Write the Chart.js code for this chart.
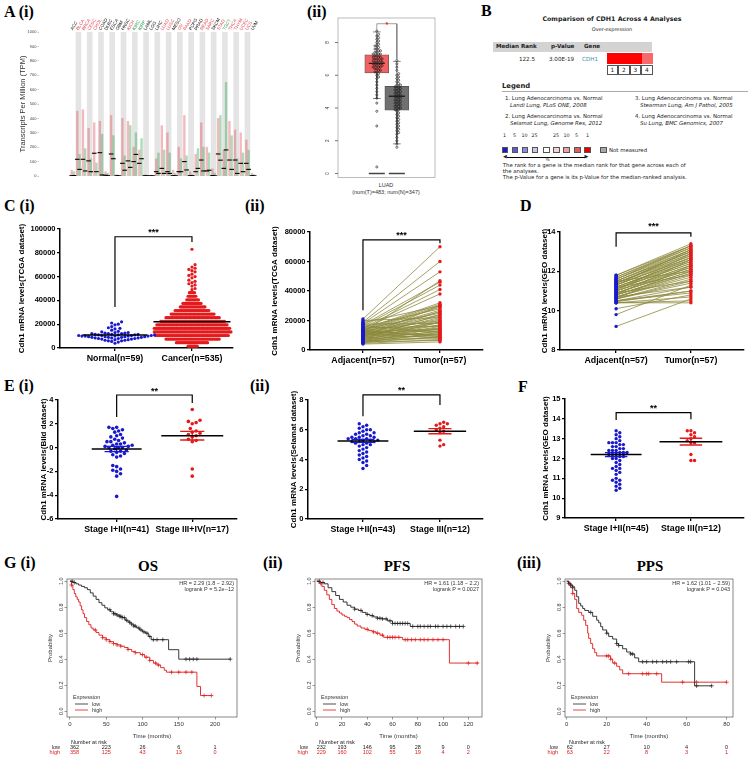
<!DOCTYPE html>
<html lang="en">
<head>
<meta charset="UTF-8" />
<title>CDH1 expression in lung adenocarcinoma</title>
<script src="https://cdn.jsdelivr.net/npm/chart.js@4.4.1/dist/chart.umd.min.js"></script>
<style>
  body { margin: 0; background: #fff; }
  #fig { position: relative; width: 748px; height: 763px; overflow: hidden; background: #fff; font-family: "Liberation Sans", Arial, sans-serif; }
  .lab { position: absolute; font: bold 16px "Liberation Serif", "Times New Roman", serif; color: #000; white-space: nowrap; line-height: 1; }
  .ttl { position: absolute; font: bold 15px "Liberation Serif", "Times New Roman", serif; color: #000; white-space: nowrap; line-height: 1; text-align: center; width: 60px; }
  .t { position: absolute; white-space: nowrap; line-height: 1; }
  .onc { font-family: "DejaVu Sans", Verdana, sans-serif; color: #222; font-size: 5.4px; }
  .sw { position: absolute; width: 6.5px; height: 6.5px; border: 0.6px solid #555; box-sizing: border-box; }
  .nb { position: absolute; width: 11.5px; height: 10px; border: 0.7px solid #555; box-sizing: border-box; font: 5.8px "DejaVu Sans", Verdana, sans-serif; text-align: center; line-height: 9px; color: #222; }
</style>
</head>
<body>
<div id="fig">
  <div class="lab" style="left:4px;top:4px">A (i)</div>
  <div class="lab" style="left:307px;top:4px">(ii)</div>
  <div class="lab" style="left:481px;top:3px">B</div>
  <div class="lab" style="left:4px;top:198px">C (i)</div>
  <div class="lab" style="left:245px;top:198px">(ii)</div>
  <div class="lab" style="left:520px;top:198px">D</div>
  <div class="lab" style="left:4px;top:378px">E (i)</div>
  <div class="lab" style="left:250px;top:378px">(ii)</div>
  <div class="lab" style="left:518px;top:379px">F</div>
  <div class="lab" style="left:4px;top:555px">G (i)</div>
  <div class="lab" style="left:263px;top:555px">(ii)</div>
  <div class="lab" style="left:517px;top:555px">(iii)</div>
  <div class="ttl" style="left:118px;top:559px">OS</div>
  <div class="ttl" style="left:367px;top:559px">PFS</div>
  <div class="ttl" style="left:620px;top:559px">PPS</div>

  <div class="t" style="left:336px;width:100px;text-align:center;top:183px;font-size:5.5px;color:#333">LUAD</div>
  <div class="t" style="left:336px;width:100px;text-align:center;top:190px;font-size:5.5px;color:#333">(num(T)=483; num(N)=347)</div>

  <!-- B: Oncomine summary -->
  <div class="t onc" style="left:512px;width:200px;top:16px;text-align:center;font-size:6.3px;font-weight:bold">Comparison of CDH1 Across 4 Analyses</div>
  <div class="t onc" style="left:512px;width:200px;top:26.5px;text-align:center;font-size:5px">Over-expression</div>
  <div style="position:absolute;left:493px;top:41.5px;width:159px;height:10px;background:#d3d3d3"></div>
  <div class="t onc" style="left:496px;top:44px;font-size:5.6px;font-weight:bold">Median Rank</div>
  <div class="t onc" style="left:551px;top:44px;font-size:5.6px;font-weight:bold">p-Value</div>
  <div class="t onc" style="left:584px;top:44px;font-size:5.6px;font-weight:bold">Gene</div>
  <div class="t onc" style="left:519px;top:56.5px;font-size:5.6px">122.5</div>
  <div class="t onc" style="left:549px;top:56.5px;font-size:5.6px">3.00E-19</div>
  <div class="t onc" style="left:582px;top:56.5px;font-size:5.6px;color:#3b8fae">CDH1</div>
  <div style="position:absolute;left:606.5px;top:53px;width:35px;height:11px;background:#ff0000"></div>
  <div style="position:absolute;left:641.5px;top:53px;width:11px;height:11px;background:#f86a6a"></div>
  <div class="nb" style="left:606.5px;top:65px">1</div>
  <div class="nb" style="left:618px;top:65px">2</div>
  <div class="nb" style="left:629.5px;top:65px">3</div>
  <div class="nb" style="left:641px;top:65px">4</div>
  <div class="t onc" style="left:502px;top:83px;font-size:6.8px;font-weight:bold">Legend</div>
  <div style="position:absolute;left:502px;top:91px;width:246px;height:0.7px;background:#aaa"></div>
  <div class="t onc" style="left:505px;top:95.5px">1. Lung Adenocarcinoma vs. Normal</div>
  <div class="t onc" style="left:510px;top:102.5px;font-style:italic">Landi Lung, PLoS ONE, 2008</div>
  <div class="t onc" style="left:505px;top:113.5px">2. Lung Adenocarcinoma vs. Normal</div>
  <div class="t onc" style="left:510px;top:120.5px;font-style:italic">Selamat Lung, Genome Res, 2012</div>
  <div class="t onc" style="left:635px;top:95.5px">3. Lung Adenocarcinoma vs. Normal</div>
  <div class="t onc" style="left:640px;top:102.5px;font-style:italic">Stearman Lung, Am J Pathol, 2005</div>
  <div class="t onc" style="left:635px;top:113.5px">4. Lung Adenocarcinoma vs. Normal</div>
  <div class="t onc" style="left:640px;top:120.5px;font-style:italic">Su Lung, BMC Genomics, 2007</div>
  <div class="t onc" style="left:503px;top:133.5px;font-size:4.8px">1</div>
  <div class="t onc" style="left:513px;top:133.5px;font-size:4.8px">5</div>
  <div class="t onc" style="left:521.5px;top:133.5px;font-size:4.8px">10</div>
  <div class="t onc" style="left:531.5px;top:133.5px;font-size:4.8px">25</div>
  <div class="t onc" style="left:553px;top:133.5px;font-size:4.8px">25</div>
  <div class="t onc" style="left:563.5px;top:133.5px;font-size:4.8px">10</div>
  <div class="t onc" style="left:575px;top:133.5px;font-size:4.8px">5</div>
  <div class="t onc" style="left:586px;top:133.5px;font-size:4.8px">1</div>
  <div class="sw" style="left:501.7px;top:146.5px;background:#1a1acc"></div>
  <div class="sw" style="left:511.7px;top:146.5px;background:#5c5cd0"></div>
  <div class="sw" style="left:521.7px;top:146.5px;background:#8c8cdc"></div>
  <div class="sw" style="left:531.7px;top:146.5px;background:#c8c8ee"></div>
  <div class="sw" style="left:543.3px;top:146.5px;background:#ffffff"></div>
  <div class="sw" style="left:553.3px;top:146.5px;background:#f4d2d2"></div>
  <div class="sw" style="left:563.3px;top:146.5px;background:#eaa2a2"></div>
  <div class="sw" style="left:574px;top:146.5px;background:#de5f5f"></div>
  <div class="sw" style="left:584px;top:146.5px;background:#e60000"></div>
  <div class="sw" style="left:600px;top:146.5px;background:#a8a8a8"></div>
  <div class="t onc" style="left:609px;top:147.5px">Not measured</div>
  <div style="position:absolute;left:507px;top:156.5px;width:79px;height:0.8px;background:#000"></div>
  <div class="t onc" style="left:503px;top:154px;font-size:5px">&#9664;</div>
  <div class="t onc" style="left:584.5px;top:154px;font-size:5px">&#9654;</div>
  <div class="t onc" style="left:545.5px;top:158px;font-size:4.5px">%</div>
  <div class="t onc" style="left:502.7px;top:162.5px">The rank for a gene is the median rank for that gene across each of</div>
  <div class="t onc" style="left:502.7px;top:168.8px">the analyses.</div>
  <div class="t onc" style="left:502.7px;top:175.3px">The p-Value for a gene is its p-Value for the median-ranked analysis.</div>
</div>

<script>
// ---------- data ----------
// A(i) GEPIA pan-cancer profile (TPM)
const gepiaTypes = ['ACC','BLCA','BRCA','CESC','CHOL','COAD','DLBC','ESCA','GBM','HNSC','KICH','KIRC','KIRP','LAML','LGG','LIHC','LUAD','LUSC','MESO','OV','PAAD','PCPG','PRAD','READ','SARC','SKCM','STAD','TGCT','THCA','THYM','UCEC','UCS','UVM'];
const gepiaTone = ['k','r','r','r','r','k','k','k','k','k','r','g','g','k','k','k','r','r','k','r','r','k','k','r','r','k','r','g','r','r','r','r','k'];
const gepiaTumorMax = [40,450,460,330,370,380,30,420,10,400,380,200,180,8,6,120,350,300,40,200,420,30,150,370,200,50,400,180,380,320,300,250,20];
const gepiaTumorMed = [2,116,116,105,158,162,5,153,2,88,105,100,88,2,1,30,53,30,2,30,100,2,30,111,35,3,153,53,111,111,88,88,2];
const gepiaNormalMax = [30,150,190,120,90,290,20,280,5,140,350,300,260,5,4,160,180,160,20,120,140,10,190,200,160,20,420,650,280,120,160,180,10];
const gepiaNormalMed = [3,46,35,30,30,7,2,120,1,40,60,150,120,1,1,18,18,18,2,30,42,2,53,35,40,1,110,181,46,18,30,46,1];

// A(ii) LUAD box plot, log2(TPM+1)
const luadBoxTumor = [4.58, 6.14, 6.73, 7.25, 8.65];   // min, q1, median, q3, max
const luadBoxNormal = [1.81, 3.87, 4.72, 5.32, 6.85];
const luadTumorDots = [8.7,8.5,8.4,8.3,8.2,8.1,8.0,7.9,7.8,7.8,7.7,7.6,7.6,7.5,7.5,7.4,7.4,7.3,7.3,7.3,7.2,7.2,7.1,7.1,7.1,7.0,7.0,7.0,6.9,6.9,6.9,6.8,6.8,6.8,6.7,6.7,6.7,6.6,6.6,6.6,6.5,6.5,6.5,6.4,6.4,6.3,6.3,6.2,6.2,6.1,6.0,5.9,5.8,5.6,5.4,5.2,5.0,4.8,4.6,4.3,3.8,2.9,0.4];
const luadNormalDots = [6.9,6.7,6.5,6.3,6.1,6.0,5.9,5.8,5.7,5.6,5.5,5.4,5.4,5.3,5.3,5.2,5.2,5.1,5.1,5.0,5.0,4.9,4.9,4.8,4.8,4.7,4.7,4.6,4.6,4.5,4.5,4.4,4.4,4.3,4.3,4.2,4.2,4.1,4.1,4.0,4.0,3.9,3.9,3.8,3.7,3.6,3.5,3.4,3.3,3.2,3.1,3.0,2.9,2.8,2.7,2.6,2.5,2.4,2.2,2.0,1.8,1.6];

// C(i) TCGA unpaired
const tcgaCats = ['Normal(n=59)', 'Cancer(n=535)'];
const tcgaNormal = [22000,21000,20000,19500,18000,17000,16500,16000,15000,14000,13500,13000,13000,12500,12500,12000,12000,12000,11500,11500,11500,11000,11000,11000,11000,10500,10500,10500,10500,10000,10000,10000,10000,10000,9500,9500,9500,9500,9000,9000,9000,9000,8500,8500,8500,8000,8000,8000,7500,7500,7000,7000,6500,6500,6000,6000,5500,5000,4000];
const tcgaCancerLevels = [1500,4500,7500,10500,13500,16500,19500,22500,25500,28500,31500,34500,37500,40500,43500,46500];
const tcgaCancerCounts = [8,25,42,57,60,59,55,50,42,34,27,20,15,10,7,5];
const tcgaCancerHigh = [49000,50000,52000,53000,54000,55000,56000,57000,59000,60000,61000,62000,64000,65000,66000,67000,68000,70000,83000];
const tcgaMeans = [11000, 22000];

// C(ii) TCGA paired
const pairCats = ['Adjacent(n=57)', 'Tumor(n=57)'];
const tcgaPairAdjacent = [21000,20000,19000,18500,18000,17500,17000,16500,16000,15500,15000,15000,14500,14000,14000,13500,13500,13000,13000,12500,12500,12000,12000,12000,11500,11500,11000,11000,11000,10500,10500,10000,10000,10000,9500,9500,9000,9000,8500,8500,8000,8000,7500,7500,7000,7000,6500,6500,6000,6000,5500,5500,5000,5000,4500,4000,12000];
const tcgaPairTumor = [70000,22000,60000,30000,53000,18000,46000,12000,44000,28000,41000,16000,38000,25000,32000,9000,31000,20000,30000,14000,29000,26000,10000,27000,24000,13000,23000,21000,8000,19000,17000,26000,15000,11000,22000,18500,14000,30000,20000,9500,17000,12500,24000,7500,16000,11000,19000,13000,10500,8500,15000,6500,9000,12000,7000,5500,47000];

// D GEO paired
const geoPairAdjacent = [11.8,11.8,11.7,11.7,11.6,11.6,11.5,11.5,11.5,11.4,11.4,11.4,11.3,11.3,11.3,11.2,11.2,11.2,11.1,11.1,11.1,11.0,11.0,11.0,10.9,10.9,10.9,10.8,10.8,10.8,10.7,10.7,10.7,10.6,10.6,10.6,10.5,10.5,10.5,10.4,10.4,10.4,11.6,11.3,11.0,10.8,10.6,11.5,11.2,10.9,10.7,11.4,11.1,10.1,9.8,9.2,10.45];
const geoPairTumor = [13.4,13.3,13.3,13.2,13.2,13.1,13.1,13.0,13.0,12.9,12.9,12.8,12.8,12.7,12.7,12.6,12.6,12.5,12.5,12.4,12.4,12.3,12.3,12.2,12.2,12.1,12.1,12.0,12.0,11.9,11.9,11.8,11.7,11.6,11.5,11.4,11.2,11.0,10.9,10.7,10.5,10.4,13.3,13.1,12.9,12.6,12.3,12.0,11.8,11.5,11.2,13.0,12.7,10.8,11.3,10.6,11.0];

// E(i) Bild, E(ii) Selamat, F GEO by stage
const bildCats = ['Stage I+II(n=41)', 'Stage III+IV(n=17)'];
const bildEarly = [1.7,1.7,1.6,1.5,1.4,1.3,1.0,1.1,0.9,0.8,0.7,0.6,0.5,0.5,0.4,0.3,0.3,0.2,0.2,0.1,0.1,0.0,0.0,0.0,-0.1,-0.2,-0.3,-0.3,-0.4,-0.5,-0.6,-0.7,-0.8,-1.5,-1.6,-1.8,-1.9,-2.0,-2.2,-2.4,-4.1];
const bildLate = [3.2,2.3,2.2,2.1,2.0,1.6,1.4,1.3,1.2,1.1,1.0,0.9,0.7,0.6,0.5,-1.8,-2.4];
const bildMeans = [-0.12, 1.0];
const bildSem = [0.22, 0.36];

const selamatCats = ['Stage I+II(n=43)', 'Stage III(n=12)'];
const selamatEarly = [6.4,6.3,6.2,6.1,6.0,6.0,5.9,5.8,5.8,5.7,5.7,5.6,5.6,5.5,5.5,5.5,5.4,5.4,5.4,5.3,5.3,5.3,5.2,5.2,5.2,5.1,5.1,5.0,5.0,4.9,4.8,4.7,4.6,4.5,4.4,4.3,4.2,4.1,4.0,3.9,3.8,3.6,3.4];
const selamatLate = [6.5,6.4,6.4,6.3,6.2,6.1,6.0,5.9,5.8,5.3,5.0,4.9];
const selamatMeans = [5.25, 5.9];
const selamatSem = [0.1, 0.17];

const geoStageCats = ['Stage I+II(n=45)', 'Stage III(n=12)'];
const geoEarly = [13.4,13.3,13.2,13.1,13.0,12.9,12.8,12.8,12.8,12.7,12.7,12.6,12.6,12.5,12.5,12.4,12.4,12.4,12.3,12.3,12.3,12.2,12.2,12.2,12.1,12.1,12.0,12.0,11.9,11.8,11.7,11.6,11.5,11.5,11.4,11.3,11.2,11.0,10.9,10.9,10.8,10.7,10.6,10.5,10.4];
const geoLate = [13.4,13.4,13.3,13.2,13.1,13.0,12.9,12.8,12.8,12.2,11.9,11.9];
const geoMeans = [12.2, 12.85];
const geoSem = [0.1, 0.17];

// G Kaplan-Meier curves: [months, survival]
const osLow = [[0,1],[4,0.99],[8,0.98],[12,0.97],[16,0.96],[20,0.95],[24,0.935],[28,0.91],[32,0.885],[36,0.86],[40,0.835],[44,0.815],[48,0.795],[52,0.78],[56,0.765],[60,0.75],[64,0.74],[68,0.73],[72,0.72],[76,0.70],[80,0.685],[84,0.67],[88,0.655],[92,0.64],[96,0.625],[100,0.61],[104,0.60],[108,0.575],[112,0.55],[136,0.473],[150,0.40],[221,0.40]];
const osHigh = [[0,1],[2,0.97],[4,0.935],[6,0.905],[8,0.88],[10,0.86],[12,0.84],[14,0.81],[16,0.78],[18,0.75],[20,0.72],[23,0.69],[26,0.665],[29,0.64],[32,0.625],[36,0.605],[40,0.585],[45,0.565],[50,0.55],[55,0.535],[60,0.52],[65,0.51],[70,0.50],[75,0.49],[80,0.475],[85,0.46],[90,0.45],[97,0.435],[103,0.415],[110,0.39],[115,0.37],[120,0.355],[125,0.335],[130,0.315],[133,0.30],[175,0.19],[180,0.12],[195,0.12]];
const osCensLow = [3,6,55,60,62,65,68,70,72,75,78,82,85,88,90,95,98,102,106,110,115,120,128,160,165,170,175,221];
const osCensHigh = [2,35,45,50,55,60,65,70,80,90,100,105,110,118,122,140,150,160,168,185,195];
const osRiskTimes = [0,50,100,150,200];
const osRiskLow = [362,223,26,6,1];
const osRiskHigh = [358,125,43,13,0];

const pfsLow = [[0,1],[3,0.99],[6,0.98],[9,0.95],[12,0.92],[15,0.89],[18,0.86],[21,0.84],[24,0.815],[27,0.80],[30,0.785],[33,0.775],[36,0.76],[39,0.745],[42,0.735],[45,0.725],[48,0.715],[52,0.71],[56,0.695],[60,0.675],[72,0.675],[74,0.652],[116,0.652]];
const pfsHigh = [[0,1],[2,0.985],[4,0.96],[6,0.93],[8,0.895],[10,0.86],[12,0.82],[14,0.79],[16,0.77],[18,0.755],[20,0.74],[22,0.73],[24,0.72],[26,0.705],[28,0.69],[30,0.67],[32,0.655],[35,0.64],[38,0.63],[41,0.62],[44,0.61],[47,0.60],[50,0.585],[53,0.568],[68,0.55],[105,0.37],[128,0.37]];
const pfsCensLow = [2,5,30,35,40,44,48,50,52,55,58,60,62,64,66,68,70,72,76,80,82,85,88,90,94,96,100,103,106,110,113,116];
const pfsCensHigh = [3,40,45,48,52,56,58,60,62,65,70,72,75,78,82,85,88,92,96,100,120,127];
const pfsRiskTimes = [0,20,40,60,80,100,120];
const pfsRiskLow = [232,193,146,95,28,9,0];
const pfsRiskHigh = [229,160,102,55,19,4,2];

const ppsLow = [[0,1],[1,0.985],[2,0.97],[3,0.955],[4,0.93],[5,0.88],[6,0.83],[7,0.81],[8,0.79],[9,0.775],[11,0.76],[13,0.73],[15,0.70],[16,0.68],[17,0.65],[18,0.625],[20,0.60],[21,0.575],[23,0.555],[25,0.52],[26,0.505],[28,0.48],[30,0.455],[32,0.44],[34,0.41],[36,0.38],[64,0.195],[72.5,0.195]];
const ppsHigh = [[0,1],[1,0.98],[2,0.95],[3,0.905],[4,0.86],[5,0.79],[6,0.76],[7.5,0.738],[8.5,0.70],[9.5,0.66],[10.5,0.6],[11,0.56],[12,0.52],[13,0.48],[14,0.45],[15,0.425],[22,0.40],[23,0.37],[25,0.345],[26.5,0.318],[28,0.288],[47.5,0.223],[80,0.223]];
const ppsCensLow = [1,2,3,12,20,25,26,32,33,38,40,43,45,48,50,52,55,61,62,65,72.5];
const ppsCensHigh = [1.5,3,20,21,22,24,31,38,40,41,45,58,65,80];
const ppsRiskTimes = [0,20,40,60,80];
const ppsRiskLow = [62,27,10,4,0];
const ppsRiskHigh = [63,22,8,3,1];

// ---------- helpers ----------
Chart.defaults.font.family = '"Liberation Sans", Arial, sans-serif';
Chart.defaults.color = '#000';
const fig = document.getElementById('fig');
const BLUE = '#1a1acd', RED = '#e41a1c';

function canvasAt(box) {
  const c = document.createElement('canvas');
  c.width = box.w; c.height = box.h;
  c.style.cssText = 'position:absolute;left:' + box.l + 'px;top:' + box.t + 'px;width:' + box.w + 'px;height:' + box.h + 'px';
  fig.appendChild(c);
  return c;
}
function fitLayout(box, plot) {
  return {
    padding: { left: 0, bottom: 0, top: plot.t - box.t, right: box.l + box.w - plot.r },
    yW: plot.l - box.l, xH: box.t + box.h - plot.b
  };
}
function tickList(a, b, step) {
  const out = [];
  for (let v = a; v <= b + step * 1e-6; v += step) out.push(Math.round(v * 1e6) / 1e6);
  return out;
}
function pts(list) {
  let lastX = 0;
  return list.map(p => {
    if (p) { lastX = p[0]; return { x: p[0], y: p[1] }; }
    return { x: lastX, y: null };
  });
}
function lineDs(list, color, width, order, extra) {
  return Object.assign({ type: 'line', data: pts(list), borderColor: color, borderWidth: width, pointRadius: 0,
    fill: false, spanGaps: false, tension: 0, order: order }, extra || {});
}
// simple beeswarm: horizontal pixel offsets so dots don't overlap
function swarm(vals, yPU, dia) {
  const idx = vals.map((v, i) => i).sort((a, b) => vals[a] - vals[b]);
  const placed = [], off = new Array(vals.length);
  for (const i of idx) {
    const py = vals[i] * yPU;
    for (let k = 0; ; k++) {
      const px = (k % 2 ? 1 : -1) * Math.ceil(k / 2) * dia / 2;
      if (placed.every(p => (p[0] - px) ** 2 + (p[1] - py) ** 2 >= dia * dia - 1e-6)) {
        placed.push([px, py]); off[i] = px; break;
      }
    }
  }
  return off;
}
function survAt(curve, t) {
  let s = 1;
  for (const p of curve) if (p[0] <= t) s = p[1];
  return s;
}
const noUi = { legend: { display: false }, tooltip: { enabled: false } };

// ---------- A(i) ----------
(function () {
  const box = { l: 18, t: 10, w: 274, h: 174 }, plot = { l: 39, t: 32, r: 288, b: 176 };
  const L = fitLayout(box, plot);
  const tone = { r: '#e2474f', g: '#22a04a', k: '#111' };
  new Chart(canvasAt(box), {
    type: 'scatter',
    data: { datasets: [
      { type: 'scatter', data: gepiaTumorMed.map((v, i) => ({ x: i - 0.2, y: v })), pointStyle: 'line', pointRadius: 2.3,
        borderColor: '#000', pointBorderColor: '#000', pointBorderWidth: 1.1, order: 0 },
      { type: 'scatter', data: gepiaNormalMed.map((v, i) => ({ x: i + 0.2, y: v })), pointStyle: 'line', pointRadius: 2.3,
        borderColor: '#000', pointBorderColor: '#000', pointBorderWidth: 1.1, order: 0 },
      { type: 'bar', data: gepiaTumorMax.map((v, i) => ({ x: i - 0.2, y: [0, v] })), backgroundColor: 'rgba(226,71,79,0.38)',
        barThickness: 1.7, grouped: false, order: 2 },
      { type: 'bar', data: gepiaNormalMax.map((v, i) => ({ x: i + 0.2, y: [0, v] })), backgroundColor: 'rgba(34,160,74,0.38)',
        barThickness: 1.7, grouped: false, order: 2 }
    ] },
    options: {
      responsive: false, animation: false, layout: { padding: L.padding }, plugins: noUi,
      scales: {
        x: { type: 'linear', min: -0.5, max: gepiaTypes.length - 0.5, afterFit: s => { s.height = L.xH; },
          ticks: { display: false }, grid: { display: false }, border: { display: false } },
        y: { min: 0, max: 1000, afterFit: s => { s.width = L.yW; }, afterBuildTicks: s => { s.ticks = tickList(0, 1000, 100).map(v => ({ value: v })); },
          ticks: { font: { size: 4 }, color: '#444', padding: 1, callback: v => String(v) },
          grid: { drawOnChartArea: false, tickLength: 1.5, color: '#888', lineWidth: 0.5 }, border: { display: false },
          title: { display: true, text: 'Transcripts Per Million (TPM)', font: { size: 7.5 }, color: '#333', padding: 0 } }
      }
    },
    plugins: [{
      id: 'gepia',
      beforeDatasetsDraw(chart) {
        const ctx = chart.ctx, a = chart.chartArea, xs = chart.scales.x;
        ctx.save(); ctx.fillStyle = '#e4e4e4';
        gepiaTypes.forEach((t, i) => {
          if (i % 2 === 1) {
            const x0 = xs.getPixelForValue(i - 0.5), x1 = xs.getPixelForValue(i + 0.5);
            ctx.fillRect(x0, a.top, x1 - x0, a.bottom - a.top);
          }
        });
        ctx.restore();
      },
      afterDraw(chart) {
        const ctx = chart.ctx, a = chart.chartArea, xs = chart.scales.x;
        ctx.save(); ctx.font = '4.5px "Liberation Sans", Arial'; ctx.textAlign = 'left'; ctx.textBaseline = 'middle';
        gepiaTypes.forEach((t, i) => {
          ctx.save(); ctx.translate(xs.getPixelForValue(i) - 1, a.top - 2); ctx.rotate(-Math.PI / 3);
          ctx.fillStyle = tone[gepiaTone[i]]; ctx.fillText(t, 0, 0); ctx.restore();
        });
        ctx.restore();
      }
    }]
  });
})();

// ---------- A(ii) ----------
(function () {
  const box = { l: 318, t: 10, w: 122, h: 172 }, plot = { l: 338, t: 18, r: 435, b: 180 };
  const pad = { left: plot.l - box.l, top: plot.t - box.t, right: box.l + box.w - plot.r, bottom: box.t + box.h - plot.b };
  const yMin = -0.24, yMax = 9.5;
  const xPU = plot.r - plot.l, yPU = (plot.b - plot.t) / (yMax - yMin);
  const cT = 0.35, cN = 0.66, hb = 0.124, hw = 0.06;
  const dots = (vals, c) => {
    const off = swarm(vals, yPU, 2.7);
    return vals.map((v, i) => ({ x: c + Math.max(-12, Math.min(12, off[i])) / xPU, y: v }));
  };
  const boxDs = (s, c, color) => [
    { type: 'bar', data: [{ x: c, y: [s[1], s[3]] }], backgroundColor: color, borderColor: '#555', borderWidth: 0.8,
      borderSkipped: false, barThickness: 24, grouped: false, order: 6 },
    lineDs([[c, s[3]], [c, s[4]], null, [c - hw, s[4]], [c + hw, s[4]], null, [c, s[1]], [c, s[0]], null, [c - hw, s[0]], [c + hw, s[0]]], '#555', 0.7, 5),
    lineDs([[c - hb, s[2]], [c + hb, s[2]]], '#222', 1.4, 0),
    lineDs([[c - hb, 0], [c + hb, 0]], '#444', 1.5, 0)
  ];
  const dotStyle = { type: 'scatter', pointRadius: 1.05, pointBackgroundColor: 'rgba(0,0,0,0)', pointBorderColor: '#111', pointBorderWidth: 0.6, order: 1 };
  new Chart(canvasAt(box), {
    type: 'scatter',
    data: { datasets: [].concat(
      boxDs(luadBoxTumor, cT, '#f26161'), boxDs(luadBoxNormal, cN, '#707070'),
      [Object.assign({ data: dots(luadTumorDots, cT) }, dotStyle), Object.assign({ data: dots(luadNormalDots, cN) }, dotStyle),
       lineDs([[cT, 8.7], [cT, 9.15], [cN, 9.15], [cN, 7.0]], '#777', 0.7, 0)]) },
    options: {
      responsive: false, animation: false, layout: { padding: pad }, plugins: noUi,
      scales: { x: { display: false, min: 0, max: 1 }, y: { display: false, min: yMin, max: yMax } }
    },
    plugins: [{
      id: 'box',
      afterDraw(chart) {
        const ctx = chart.ctx, a = chart.chartArea, xs = chart.scales.x, ys = chart.scales.y;
        ctx.save();
        ctx.strokeStyle = '#aaa'; ctx.lineWidth = 0.8; ctx.strokeRect(a.left, a.top, a.right - a.left, a.bottom - a.top);
        ctx.strokeStyle = '#555'; ctx.fillStyle = '#333'; ctx.font = '4.5px "Liberation Sans", Arial';
        [0, 2, 4, 6, 8].forEach(v => {
          const y = ys.getPixelForValue(v);
          ctx.beginPath(); ctx.moveTo(a.left - 3, y); ctx.lineTo(a.left, y); ctx.stroke();
          ctx.save(); ctx.translate(a.left - 8, y); ctx.rotate(-Math.PI / 2); ctx.textAlign = 'center'; ctx.textBaseline = 'bottom';
          ctx.fillText(String(v), 0, 0); ctx.restore();
        });
        ctx.fillStyle = '#e02020'; ctx.font = 'bold 7px "Liberation Sans", Arial'; ctx.textAlign = 'center'; ctx.textBaseline = 'middle';
        ctx.fillText('*', xs.getPixelForValue((cT + cN) / 2), ys.getPixelForValue(9.15) + 1);
        ctx.restore();
      }
    }]
  });
})();

// ---------- dot / paired panels (C, D, E, F) ----------
function dotPanel(cfg) {
  const L = fitLayout(cfg.box, cfg.plot);
  const xPU = (cfg.plot.r - cfg.plot.l) / (cfg.x[1] - cfg.x[0]);
  const yPU = (cfg.plot.b - cfg.plot.t) / (cfg.y[1] - cfg.y[0]);
  const ds = [];
  if (cfg.pairs) {
    const segs = [];
    cfg.pairs[0].forEach((v, i) => { segs.push([1, v], [2, cfg.pairs[1][i]], null); });
    ds.push(lineDs(segs, '#8d8a3e', 0.8, 5));
  }
  cfg.groups.forEach((g, gi) => {
    const c = gi + 1;
    const offs = typeof g.offsets === 'function' ? g.offsets(yPU) : (g.offsets || swarm(g.vals, yPU, g.dia));
    ds.push({ type: 'scatter', data: g.vals.map((v, i) => ({ x: c + offs[i] / xPU, y: v })), pointRadius: g.r,
      pointBackgroundColor: g.color, pointBorderWidth: 0, pointStyle: 'circle', order: 3 });
    if (g.mean !== undefined) ds.push(lineDs([[c - g.half, g.mean], [c + g.half, g.mean]], '#000', 1.5, 1));
    if (g.sem) {
      const m = g.mean, s = g.sem, h = g.semHalf;
      ds.push(lineDs([[c - h, m + s], [c + h, m + s], null, [c, m + s], [c, m - s], null, [c - h, m - s], [c + h, m - s]], g.color, 1.3, 2));
    }
  });
  const b = cfg.bracket;
  ds.push(lineDs([[1, b[0]], [1, b[1]], [2, b[1]], [2, b[2]]], '#000', 1.2, 0, { clip: false }));
  const axisGrid = { drawOnChartArea: false, drawTicks: true, tickLength: 3, color: '#000', lineWidth: 1.3 };
  new Chart(canvasAt(cfg.box), {
    type: 'scatter',
    data: { datasets: ds },
    options: {
      responsive: false, animation: false, layout: { padding: L.padding }, plugins: noUi,
      scales: {
        x: { min: cfg.x[0], max: cfg.x[1], afterFit: s => { s.height = L.xH; },
          afterBuildTicks: s => { s.ticks = cfg.cats.map((c, i) => ({ value: i + 1 })); },
          ticks: { callback: v => cfg.cats[v - 1], font: { weight: 'bold', size: 8.8 }, color: '#000', padding: 2, maxRotation: 0, autoSkip: false },
          grid: axisGrid, border: { color: '#000', width: 1.5 } },
        y: { min: cfg.y[0], max: cfg.y[1], afterFit: s => { s.width = L.yW; },
          afterBuildTicks: s => { s.ticks = tickList(cfg.y[0], cfg.y[1], cfg.y[2]).map(v => ({ value: v })); },
          ticks: { callback: v => String(v), font: { weight: 'bold', size: 7.5 }, color: '#000', padding: 1.5 },
          grid: axisGrid, border: { color: '#000', width: 1.5 },
          title: { display: true, text: cfg.title, font: { weight: 'bold', size: 8 }, color: '#000', padding: 0 } }
      }
    },
    plugins: [{
      id: 'stars',
      afterDraw(chart) {
        const ctx = chart.ctx;
        ctx.save(); ctx.font = 'bold 9px "Liberation Sans", Arial'; ctx.fillStyle = '#000';
        ctx.textAlign = 'center'; ctx.textBaseline = 'middle';
        ctx.fillText(cfg.stars, chart.scales.x.getPixelForValue(1.5), chart.scales.y.getPixelForValue(cfg.starsY) + 2);
        ctx.restore();
      }
    }]
  });
}

// C(i)
const tcgaCancerVals = [];
tcgaCancerLevels.forEach((lv, i) => { for (let k = 0; k < tcgaCancerCounts[i]; k++) tcgaCancerVals.push(lv); });
tcgaCancerHigh.forEach(v => tcgaCancerVals.push(v));
dotPanel({
  box: { l: 17, t: 218, w: 220, h: 150 }, plot: { l: 60, t: 229, r: 233, b: 348 },
  x: [0.286, 2.533], y: [0, 100000, 20000], title: 'Cdh1 mRNA levels(TCGA dataset)', cats: tcgaCats,
  groups: [
    { vals: tcgaNormal, color: BLUE, r: 1.6, dia: 3.3, mean: tcgaMeans[0], half: 0.42 },
    { vals: tcgaCancerVals, color: RED, r: 1.6, mean: tcgaMeans[1], half: 0.5,
      offsets: yPU => {
        const off = [];
        tcgaCancerLevels.forEach((lv, i) => { for (let k = 0; k < tcgaCancerCounts[i]; k++) off.push((k % 2 ? 1 : -1) * Math.ceil(k / 2) * 1.3); });
        return off.concat(swarm(tcgaCancerHigh, yPU, 3.1));
      } }
  ],
  bracket: [34500, 93500, 89000], stars: '***', starsY: 99000
});
// C(ii)
dotPanel({
  box: { l: 270, t: 220, w: 218, h: 148 }, plot: { l: 310, t: 232, r: 483, b: 350 },
  x: [0.312, 2.559], y: [0, 80000, 20000], title: 'Cdh1 mRNA levels(TCGA dataset)', cats: pairCats,
  pairs: [tcgaPairAdjacent, tcgaPairTumor],
  groups: [
    { vals: tcgaPairAdjacent, color: BLUE, r: 1.7, offsets: tcgaPairAdjacent.map(() => 0) },
    { vals: tcgaPairTumor, color: RED, r: 1.7, offsets: tcgaPairTumor.map(() => 0) }
  ],
  bracket: [27000, 74600, 72300], stars: '***', starsY: 79300
});
// D
dotPanel({
  box: { l: 540, t: 218, w: 208, h: 150 }, plot: { l: 560, t: 232, r: 747, b: 350 },
  x: [0.25, 2.71], y: [8, 14, 2], title: 'Cdh1 mRNA levels(GEO dataset)', cats: pairCats,
  pairs: [geoPairAdjacent, geoPairTumor],
  groups: [
    { vals: geoPairAdjacent, color: BLUE, r: 1.7, offsets: geoPairAdjacent.map(() => 0) },
    { vals: geoPairTumor, color: RED, r: 1.7, offsets: geoPairTumor.map(() => 0) }
  ],
  bracket: [13.25, 13.96, 13.76], stars: '***', starsY: 14.36
});
// E(i)
dotPanel({
  box: { l: 39, t: 380, w: 202, h: 158 }, plot: { l: 58, t: 400, r: 238, b: 519 },
  x: [0.224, 2.592], y: [-6, 4, 2], title: 'Cdh1 mRNA levels(Bild dataset)', cats: bildCats,
  groups: [
    { vals: bildEarly, color: BLUE, r: 1.8, dia: 3.9, mean: bildMeans[0], half: 0.33, sem: bildSem[0], semHalf: 0.16 },
    { vals: bildLate, color: RED, r: 1.8, dia: 3.9, mean: bildMeans[1], half: 0.41, sem: bildSem[1], semHalf: 0.16 }
  ],
  bracket: [2.57, 4.42, 3.75], stars: '**', starsY: 4.92
});
// E(ii)
dotPanel({
  box: { l: 289, t: 380, w: 198, h: 158 }, plot: { l: 308, t: 400, r: 483, b: 519 },
  x: [0.286, 2.559], y: [0, 8, 2], title: 'Cdh1 mRNA levels(Selamat dataset)', cats: selamatCats,
  groups: [
    { vals: selamatEarly, color: BLUE, r: 1.7, dia: 3.7, mean: selamatMeans[0], half: 0.33, sem: selamatSem[0], semHalf: 0.15 },
    { vals: selamatLate, color: RED, r: 1.7, dia: 3.7, mean: selamatMeans[1], half: 0.34, sem: selamatSem[1], semHalf: 0.15 }
  ],
  bracket: [6.9, 8.34, 7.66], stars: '**', starsY: 8.74
});
// F
dotPanel({
  box: { l: 541, t: 380, w: 207, h: 157 }, plot: { l: 565, t: 399, r: 747, b: 518 },
  x: [0.316, 2.71], y: [9, 15, 1], title: 'Cdh1 mRNA levels(GEO dataset)', cats: geoStageCats,
  groups: [
    { vals: geoEarly, color: BLUE, r: 1.7, dia: 3.7, mean: geoMeans[0], half: 0.34, sem: geoSem[0], semHalf: 0.15 },
    { vals: geoLate, color: RED, r: 1.7, dia: 3.7, mean: geoMeans[1], half: 0.42, sem: geoSem[1], semHalf: 0.15 }
  ],
  bracket: [13.94, 14.31, 13.98], stars: '**', starsY: 14.61
});

// ---------- G: Kaplan-Meier ----------
function kmPanel(cfg) {
  const B = cfg.box, P = cfg.plot, L = fitLayout(B, P);
  const Y = v => v - B.t;
  const KRED = '#e01b1b', KBLK = '#222';
  const ds = [
    { type: 'scatter', data: cfg.censLow.map(t => ({ x: t, y: survAt(cfg.low, t) })), pointStyle: 'cross', pointRadius: 2.1,
      pointBorderColor: KBLK, pointBorderWidth: 0.7, order: 1 },
    { type: 'scatter', data: cfg.censHigh.map(t => ({ x: t, y: survAt(cfg.high, t) })), pointStyle: 'cross', pointRadius: 2.1,
      pointBorderColor: KRED, pointBorderWidth: 0.7, order: 1 },
    { type: 'line', data: cfg.low.map(p => ({ x: p[0], y: p[1] })), stepped: true, borderColor: KBLK, borderWidth: 0.9, pointRadius: 0, order: 2 },
    { type: 'line', data: cfg.high.map(p => ({ x: p[0], y: p[1] })), stepped: true, borderColor: KRED, borderWidth: 0.9, pointRadius: 0, order: 2 }
  ];
  const grid = { drawOnChartArea: false, tickLength: 2.5, color: '#555', lineWidth: 0.6 };
  const yT = [0, 0.2, 0.4, 0.6, 0.8, 1];
  new Chart(canvasAt(B), {
    type: 'scatter',
    data: { datasets: ds },
    options: {
      responsive: false, animation: false, layout: { padding: L.padding }, plugins: noUi,
      scales: {
        x: { min: cfg.x[0], max: cfg.x[1], afterFit: s => { s.height = L.xH; },
          afterBuildTicks: s => { s.ticks = cfg.riskTimes.map(v => ({ value: v })); },
          ticks: { font: { size: 6 }, color: '#333', padding: 1.5, maxRotation: 0, autoSkip: false, callback: v => String(v) },
          grid: grid, border: { display: false } },
        y: { min: -0.045, max: 1.017, afterFit: s => { s.width = L.yW; },
          afterBuildTicks: s => { s.ticks = yT.map(v => ({ value: v })); },
          ticks: { display: false }, grid: grid, border: { display: false } }
      }
    },
    plugins: [{
      id: 'km',
      afterDraw(chart) {
        const ctx = chart.ctx, a = chart.chartArea, xs = chart.scales.x, ys = chart.scales.y;
        const F = s => s + 'px "Liberation Sans", Arial';
        ctx.save();
        ctx.strokeStyle = '#555'; ctx.lineWidth = 0.7; ctx.strokeRect(a.left, a.top, a.right - a.left, a.bottom - a.top);
        ctx.fillStyle = '#333'; ctx.font = F(5.5);
        yT.forEach(v => {
          ctx.save(); ctx.translate(a.left - 3, ys.getPixelForValue(v)); ctx.rotate(-Math.PI / 2);
          ctx.textAlign = 'center'; ctx.textBaseline = 'bottom'; ctx.fillText(v.toFixed(1), 0, 0); ctx.restore();
        });
        ctx.font = F(6);
        ctx.save(); ctx.translate(a.left - 17, (a.top + a.bottom) / 2); ctx.rotate(-Math.PI / 2);
        ctx.textAlign = 'center'; ctx.textBaseline = 'middle'; ctx.fillText('Probability', 0, 0); ctx.restore();
        ctx.textAlign = 'center'; ctx.textBaseline = 'middle';
        ctx.fillText('Time (months)', (a.left + a.right) / 2, Y(736));
        // hazard ratio
        ctx.font = F(5.5); ctx.textAlign = 'right';
        ctx.fillText(cfg.hr[0], a.right - 3, Y(583.5));
        ctx.fillText(cfg.hr[1], a.right - 3, Y(589.5));
        // legend
        ctx.textAlign = 'left';
        ctx.fillText('Expression', a.left + 6, Y(697));
        ctx.lineWidth = 0.8;
        ctx.strokeStyle = KBLK; ctx.beginPath(); ctx.moveTo(a.left + 8, Y(704)); ctx.lineTo(a.left + 21, Y(704)); ctx.stroke();
        ctx.strokeStyle = KRED; ctx.beginPath(); ctx.moveTo(a.left + 8, Y(710)); ctx.lineTo(a.left + 21, Y(710)); ctx.stroke();
        ctx.fillText('low', a.left + 25, Y(704));
        ctx.fillText('high', a.left + 25, Y(710));
        // number at risk
        ctx.fillStyle = '#222';
        ctx.fillText('Number at risk', a.left + 4, Y(742.5));
        ctx.textAlign = 'right';
        ctx.fillText('low', a.left - 7, Y(747.7));
        ctx.fillStyle = KRED; ctx.fillText('high', a.left - 7, Y(752.7));
        cfg.riskTimes.forEach((t, i) => {
          const x = xs.getPixelForValue(t);
          ctx.textAlign = i === 0 ? 'left' : 'center';
          ctx.fillStyle = '#222'; ctx.fillText(String(cfg.riskLow[i]), x, Y(747.7));
          ctx.fillStyle = KRED; ctx.fillText(String(cfg.riskHigh[i]), x, Y(752.7));
        });
        ctx.restore();
      }
    }]
  });
}

kmPanel({
  box: { l: 38, t: 573, w: 205, h: 190 }, plot: { l: 67, t: 579, r: 237, b: 717 }, x: [-4.1, 230.3],
  low: osLow, high: osHigh, censLow: osCensLow, censHigh: osCensHigh,
  riskTimes: osRiskTimes, riskLow: osRiskLow, riskHigh: osRiskHigh,
  hr: ['HR = 2.29 (1.8 \u2212 2.92)', 'logrank P = 5.2e\u221212']
});
kmPanel({
  box: { l: 286, t: 573, w: 202, h: 190 }, plot: { l: 315, t: 579, r: 482, b: 717 }, x: [-1.35, 130.8],
  low: pfsLow, high: pfsHigh, censLow: pfsCensLow, censHigh: pfsCensHigh,
  riskTimes: pfsRiskTimes, riskLow: pfsRiskLow, riskHigh: pfsRiskHigh,
  hr: ['HR = 1.61 (1.18 \u2212 2.2)', 'logrank P = 0.0027']
});
kmPanel({
  box: { l: 536, t: 573, w: 203, h: 190 }, plot: { l: 565, t: 579, r: 733, b: 717 }, x: [-0.85, 83.2],
  low: ppsLow, high: ppsHigh, censLow: ppsCensLow, censHigh: ppsCensHigh,
  riskTimes: ppsRiskTimes, riskLow: ppsRiskLow, riskHigh: ppsRiskHigh,
  hr: ['HR = 1.62 (1.01 \u2212 2.59)', 'logrank P = 0.043']
});
</script>
</body>
</html>
